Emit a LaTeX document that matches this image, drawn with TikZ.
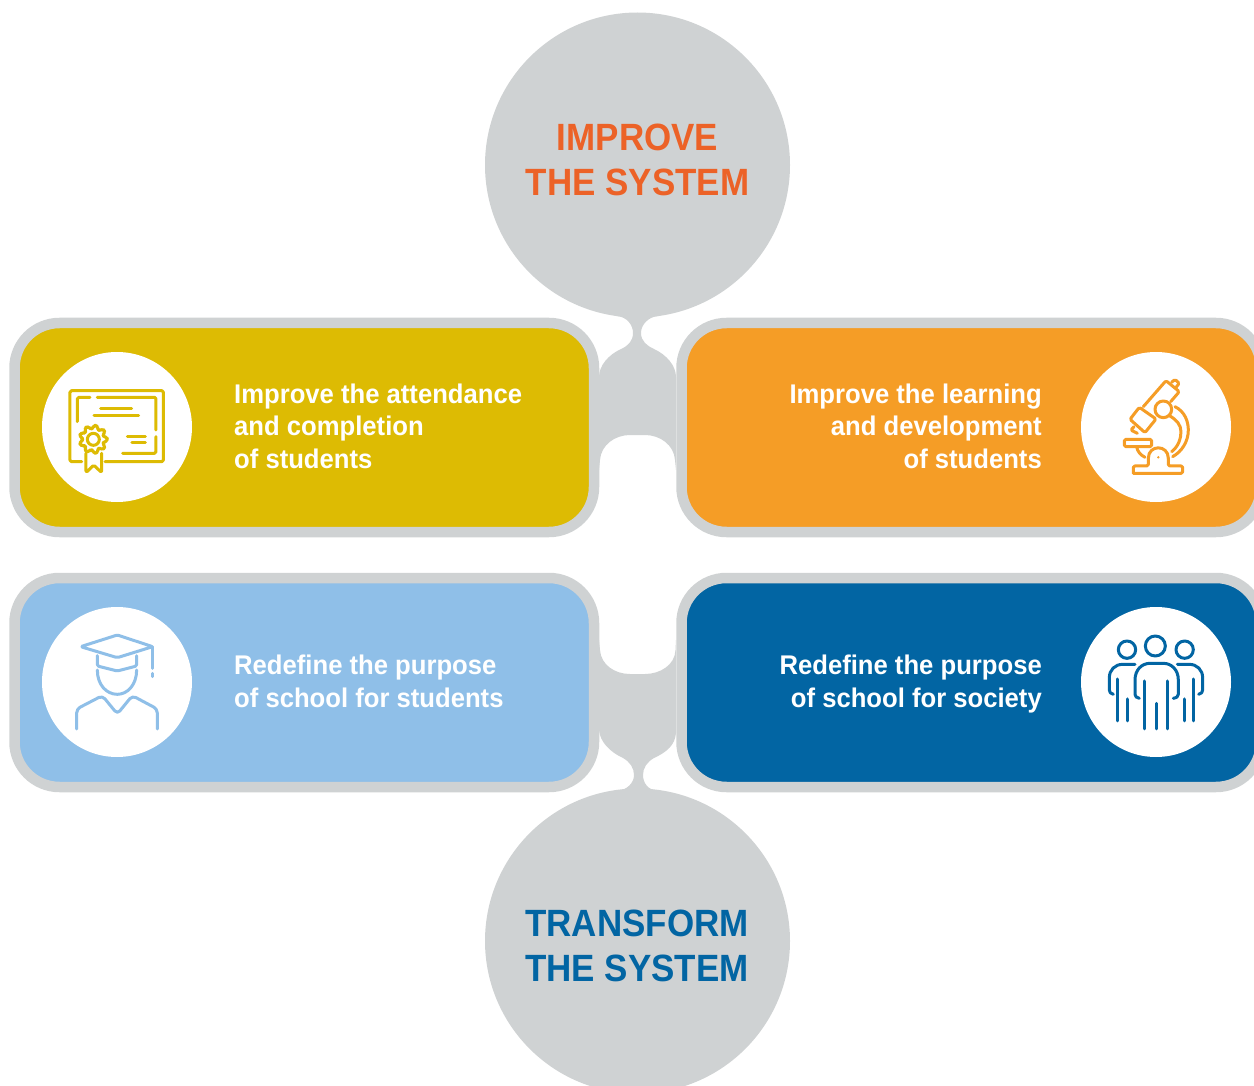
\documentclass[tikz,border=0pt]{standalone}
\usepackage{fontspec}
\setmainfont[FakeStretch=0.92]{Liberation Sans}
\newfontfamily\cardfont[FakeStretch=0.95]{Liberation Sans}
\definecolor{ringgray}{HTML}{CFD2D3}
\definecolor{titleorange}{HTML}{EC6227}
\definecolor{cardyellow}{HTML}{DDBB03}
\definecolor{cardorange}{HTML}{F59D26}
\definecolor{cardsky}{HTML}{8FBFE8}
\definecolor{cardblue}{HTML}{0265A3}
\tikzset{
  bigcircle/.style={circle,fill=ringgray,minimum size=305pt,inner sep=0pt,outer sep=0pt},
  cardbox/.style={draw=ringgray,line width=10.5pt,rounded corners=45pt,minimum width=579.5pt,minimum height=209pt,inner sep=0pt,outer sep=0pt},
  iconcircle/.style={circle,fill=white,minimum size=150pt,inner sep=0pt,outer sep=0pt},
  titletext/.style={font=\fontsize{38}{44.5}\selectfont\bfseries,align=center,inner sep=0pt},
  cardtext/.style={font=\cardfont\fontsize{27}{32.5}\selectfont\bfseries,text=white,inner sep=0pt},
  iconline/.style={line width=3pt,line cap=round,line join=round,rounded corners=1.5pt}
}
\begin{document}
\begin{tikzpicture}[x=1pt,y=-1pt]
    \useasboundingbox (0,0) rectangle (1254,1086);
    \clip (0,0) rectangle (1254,1086);
    \fill [ringgray] (617,316) .. controls (627,317) and (633,325) .. (633,333) .. controls (633,341) and (628,346) .. (621,349) .. controls (608,355) and (599,366) .. (599,377) -- (599,470) -- (600,460) .. controls (601,445) and (615,435) .. (630,435) -- (645,435) .. controls (660,435) and (674,445) .. (675,460) -- (676,470) -- (676,377) .. controls (676,366) and (667,355) .. (654,349) .. controls (647,346) and (641,341) .. (641,333) .. controls (641,325) and (648,317) .. (658,316) -- cycle;
    \fill [ringgray] (599,640) -- (600,650) .. controls (601,665) and (615,674) .. (630,674) -- (645,674) .. controls (660,674) and (675,665) .. (675.5,650) -- (676,640) -- (676,733) .. controls (675,745) and (667,752) .. (654,758) .. controls (647,762) and (643,768) .. (643,775) .. controls (643,783) and (648,790) .. (658,791) -- (617,791) .. controls (627,790) and (634,783) .. (634,775) .. controls (634,768) and (630,762) .. (623,758) .. controls (610,752) and (600,742) .. (599,730) -- cycle;
    \node [bigcircle] (improve) at (637.5,165) {};
    \node [bigcircle] (transform) at (637.5,941) {};
    \node [titletext,text=titleorange] (improvetext) at (637.5,160) {IMPROVE\\THE SYSTEM};
    \node [titletext,text=cardblue] (transformtext) at (637,946) {TRANSFORM\\THE SYSTEM};
    \node [cardbox,fill=cardyellow] (attend) at (304.25,427.5) {};
    \node [cardbox,fill=cardorange] (learn) at (971.25,427.5) {};
    \node [cardbox,fill=cardsky] (students) at (304.25,682.5) {};
    \node [cardbox,fill=cardblue] (society) at (971.25,682.5) {};
    \node [iconcircle] (attendicon) at (117,427) {};
    \node [iconcircle] (learnicon) at (1156,427) {};
    \node [iconcircle] (studentsicon) at (117,682) {};
    \node [iconcircle] (societyicon) at (1156,682) {};
    \node [cardtext,anchor=west,align=left] (attendtext) at (234,426) {Improve the attendance\\and completion\\of students};
    \node [cardtext,anchor=east,align=right] (learntext) at (1042,426) {Improve the learning\\and development\\of students};
    \node [cardtext,anchor=west,align=left] (studentstext) at (234,681.5) {Redefine the purpose\\of school for students};
    \node [cardtext,anchor=east,align=right] (societytext) at (1042,684) {Redefine the purpose\\of school for society};
    % certificate
    \begin{scope}[shift={(40,350)},scale=0.3333,cardyellow,iconline]
        \draw (125,335) -- (90,335) -- (90,122) -- (370,122) -- (370,335) -- (195,335);
        \draw (150,142) -- (112,142) -- (112,215);
        \draw (172,142) -- (348,142) -- (348,240);
        \draw (348,260) -- (348,310) -- (248,310);
        \draw (182,175) -- (275,175);
        \draw (162,198) -- (296,198);
        \draw (262,260) -- (316,260);
        \draw (276,279) -- (316,279);
        \draw plot [domain=0:360,samples=65,smooth] ({160+37*cos(\x)+4*cos(9*\x)*cos(\x)},{268+37*sin(\x)+4*cos(9*\x)*sin(\x)}) -- cycle;
        \draw (160,268) circle (18);
        \draw (138,310) -- (138,368) -- (161,345) -- (185,368) -- (185,310);
    \end{scope}
    % microscope
    \begin{scope}[shift={(1080,350)},scale=0.3333,cardorange,iconline]
        \draw (190,170) -- (258,92) -- (298,125) -- (272,155);
        \draw (178,172) -- (150,208) -- (195,248) -- (228,207) -- cycle;
        \draw (162,230) -- (152,240) -- (172,250);
        \draw (275,97) -- (285,88) -- (298,100) -- (288,112);
        \draw (250,178) circle (25);
        \draw [rounded corners=0pt] (285,170) .. controls (315,185) and (325,215) .. (325,240) .. controls (325,275) and (305,305) .. (278,320);
        \draw [rounded corners=0pt] (270,198) .. controls (290,210) and (303,225) .. (303,245) .. controls (303,265) and (295,290) .. (275,305);
        \draw (133,268) rectangle (215,290);
        \draw [rounded corners=0pt] (170,290) .. controls (172,305) and (182,315) .. (195,322);
        \draw (160,370) -- (160,348) -- (205,348) -- (205,325);
        \draw [rounded corners=0pt] (205,325) .. controls (205,283) and (265,283) .. (265,325);
        \draw (265,325) -- (265,348) -- (308,348) -- (308,370) -- (160,370);
        \fill (235,322) circle (4);
    \end{scope}
    % student
    \begin{scope}[shift={(40,605)},scale=0.3333,cardsky,iconline]
        \draw (122,125) -- (232,90) -- (338,125) -- (232,158) -- cycle;
        \draw (338,125) -- (338,190);
        \draw (338,205) -- (338,215);
        \draw (172,152) -- (172,183) -- (232,198) -- (290,183) -- (290,152);
        \draw [rounded corners=0pt] (172,195) .. controls (172,240) and (200,268) .. (232,268) .. controls (262,268) and (290,240) .. (290,195);
        \draw [rounded corners=4pt] (110,372) -- (110,312) -- (187,272) -- (232,327) -- (277,272) -- (352,312) -- (352,372);
    \end{scope}
    % people
    \begin{scope}[shift={(1080,605)},scale=0.3333,cardblue,iconline]
        \draw (226,123) circle (30);
        \draw (141,134) circle (26);
        \draw (314,134) circle (26);
        \draw [rounded corners=0pt] (178,280) .. controls (170,278) and (165,275) .. (165,268) -- (165,225) .. controls (165,195) and (185,175) .. (210,175) -- (250,175) .. controls (275,175) and (295,195) .. (295,225) -- (295,268) .. controls (295,275) and (290,278) .. (280,280);
        \draw (193,228) -- (193,372);
        \draw (228,295) -- (228,372);
        \draw (263,228) -- (263,372);
        \draw [rounded corners=0pt] (165,178) -- (128,178) .. controls (105,178) and (88,195) .. (88,218) -- (88,255) .. controls (88,262) and (92,266) .. (100,268);
        \draw (113,222) -- (113,348);
        \draw (142,282) -- (142,348);
        \draw [rounded corners=0pt] (292,178) -- (328,178) .. controls (351,178) and (368,195) .. (368,218) -- (368,255) .. controls (368,262) and (364,266) .. (356,268);
        \draw (342,222) -- (342,348);
        \draw (313,282) -- (313,348);
    \end{scope}
\end{tikzpicture}
\end{document}
